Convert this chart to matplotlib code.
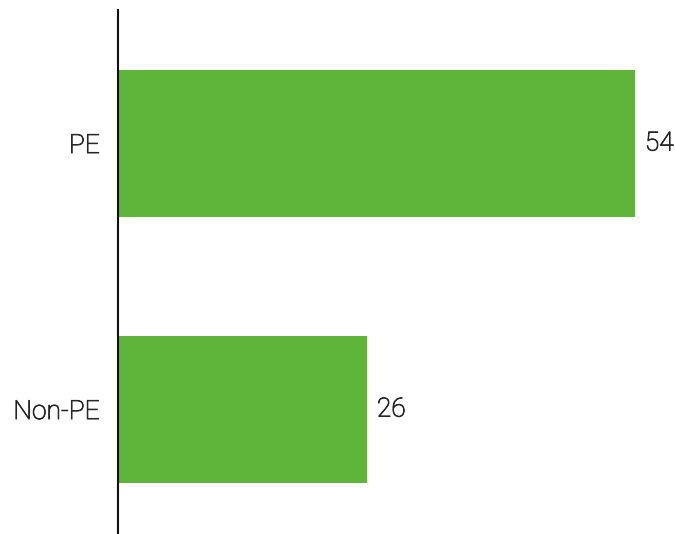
import matplotlib
matplotlib.use("Agg")
from matplotlib import pyplot as plt
from matplotlib import patheffects as pe

categories = ["Non-PE", "PE"]
values = [26, 54]

plt.rcParams['font.family'] = ['Roboto', 'DejaVu Sans']

text_color = '#262626'
# light face, slightly thickened
thicken = [pe.withStroke(linewidth=0.6, foreground=text_color)]

fig = plt.figure(figsize=(6.75, 5.34), dpi=100)
ax = fig.add_axes([118 / 675, 1 / 534, 557 / 675, 523 / 534])

pos = range(len(categories))
bars = ax.barh(pos, values, height=0.553, color='#5fb43a')

ax.set_xlim(0, 58.2)
ax.set_ylim(-0.464, 1.502)

for s in ['top', 'right', 'bottom']:
    ax.spines[s].set_visible(False)
ax.spines['left'].set_linewidth(1.5)
ax.spines['left'].set_color('#111111')

ax.set_xticks([])
ax.set_yticks(list(pos))
ax.set_yticklabels(categories, fontsize=19, color=text_color, fontweight='light')
for lbl in ax.get_yticklabels():
    lbl.set_path_effects(thicken)
ax.tick_params(axis='y', length=0, pad=13)

# value labels just right of each bar
for bar, v in zip(bars, values):
    ax.annotate(str(v), (bar.get_width(), bar.get_y() + bar.get_height() / 2),
                xytext=(10, 0), textcoords='offset pixels',
                va='center', ha='left', fontsize=19, color=text_color,
                fontweight='light', path_effects=thicken)

fig.savefig('out.png', dpi=100)
